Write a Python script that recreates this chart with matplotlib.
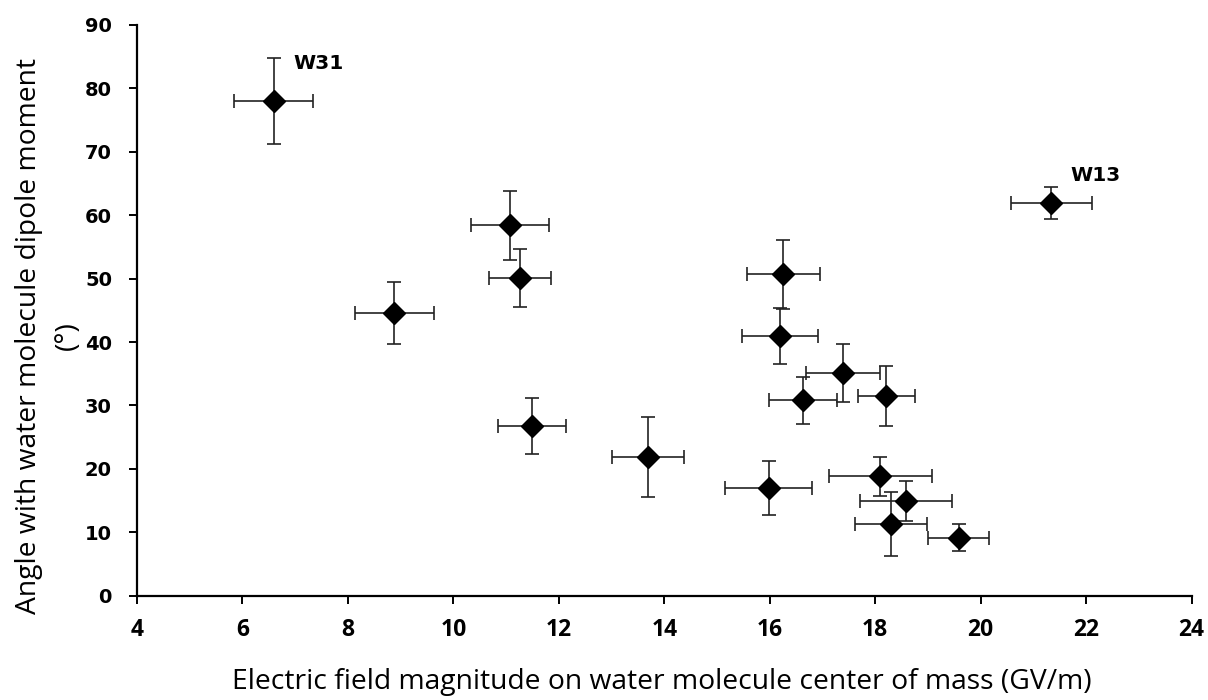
import matplotlib
matplotlib.use("Agg")
import matplotlib.pyplot as plt

# field magnitude (GV/m) vs angle with dipole moment (deg)
field = [6.59, 8.88, 11.07, 11.27, 11.49, 13.69, 15.98, 16.20, 16.26,
         16.63, 17.39, 18.10, 18.21, 18.30, 18.59, 19.58, 21.34]
angle = [78.0, 44.6, 58.4, 50.1, 26.8, 21.9, 17.0, 41.0, 50.7,
         30.8, 35.1, 18.8, 31.5, 11.3, 14.9, 9.15, 61.9]
field_err = [0.75, 0.75, 0.74, 0.59, 0.65, 0.69, 0.83, 0.72, 0.70,
             0.65, 0.70, 0.98, 0.54, 0.69, 0.87, 0.57, 0.77]
angle_err = [6.8, 4.85, 5.4, 4.5, 4.4, 6.35, 4.3, 4.4, 5.45,
             3.7, 4.6, 3.1, 4.7, 5.0, 3.15, 2.1, 2.5]

# labelled waters: index into the arrays above
labels = {0: "W31", 16: "W13"}
label_offsets = {0: (14, 27), 16: (14, 20)}

x_ticks = list(range(4, 25, 2))
y_ticks = list(range(0, 91, 10))

fig = plt.figure(figsize=(12.08, 7.0), dpi=100)
ax = fig.add_axes([0.1134, 0.149, 0.873, 0.8153])

ax.errorbar(field, angle, xerr=field_err, yerr=angle_err,
            fmt="D", color="black", markersize=11,
            ecolor="#222222", elinewidth=1.2, capsize=5, capthick=1.2)

for i, name in labels.items():
    ax.annotate(name, (field[i], angle[i]), xytext=label_offsets[i],
                textcoords="offset points", ha="left", va="center",
                fontsize=14.5, fontweight="bold", family="DejaVu Sans")

ax.set_xlim(4, 24)
ax.set_ylim(0, 90)
ax.set_xticks(x_ticks)
ax.set_yticks(y_ticks)

for s in ["top", "right"]:
    ax.spines[s].set_visible(False)
for s in ["left", "bottom"]:
    ax.spines[s].set_linewidth(1.6)

ax.tick_params(axis="both", direction="out", length=6, width=1.4)
for t in ax.get_xticklabels():
    t.set_fontfamily("Open Sans")
    t.set_fontweight("bold")
    t.set_fontsize(16.5)
for t in ax.get_yticklabels():
    t.set_fontfamily("DejaVu Sans")
    t.set_fontweight("bold")
    t.set_fontsize(14)
ax.tick_params(axis="x", pad=10)
ax.tick_params(axis="y", pad=12)

ax.set_xlabel("Electric field magnitude on water molecule center of mass (GV/m)",
              fontsize=20.3, family="Open Sans", fontweight="medium")
ax.set_ylabel("Angle with water molecule dipole moment\n(°)",
              fontsize=20.3, family="Open Sans", fontweight="medium",
              linespacing=1.55)
ax.xaxis.set_label_coords(0.498, -0.126)
ax.yaxis.set_label_coords(-0.052, 0.455)

fig.savefig("out.png", dpi=100)
